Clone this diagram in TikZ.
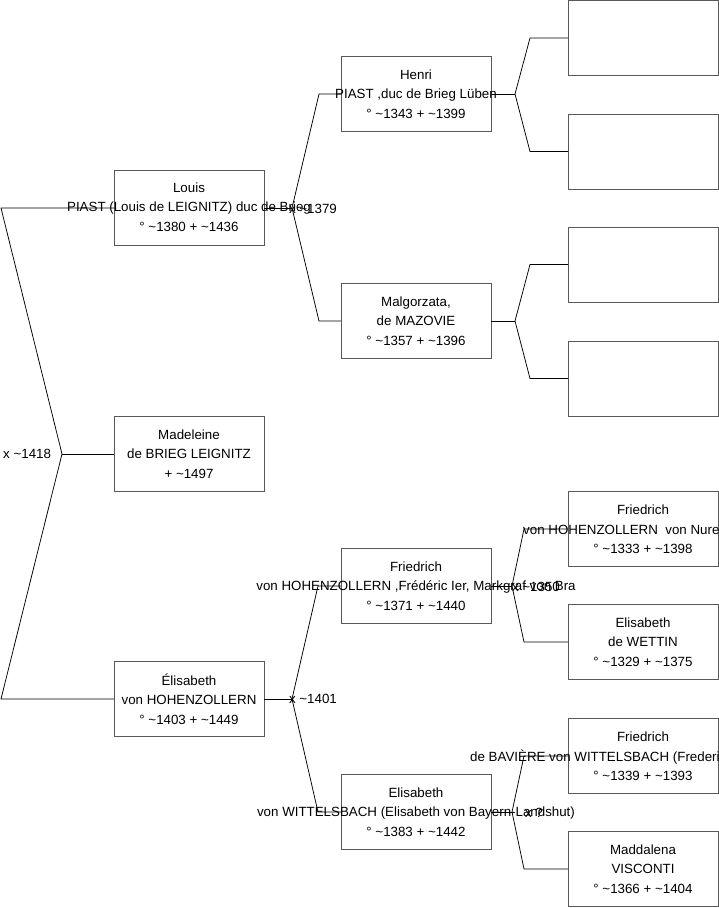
\documentclass[tikz,border=0pt]{standalone}
\usepackage{fontspec}
\setmainfont{Liberation Sans}
\newcommand\tld{\textasciitilde}
\begin{document}
\begin{tikzpicture}[x=1pt,y=-1pt,
  pbox/.style={draw=black!65, line width=0.9pt, minimum width=150pt, minimum height=75pt, inner sep=0pt, outer sep=0pt},
  ptext/.style={align=center, font=\fontsize{13.33}{19.5}\selectfont, inner sep=0pt, text=black},
  pline/.style={font=\fontsize{13.33}{16}\selectfont, inner sep=0pt, text=black, anchor=base},
  link/.style={draw=black, line width=0.75pt},
  mlabel/.style={font=\fontsize{13.33}{16}\selectfont, inner sep=0pt, anchor=base, text=black}]
\useasboundingbox (0,0) rectangle (719,908);

% boxes
\node[pbox] (louis) at (189,208) {};
\node[pbox] (madeleine) at (189,454) {};
\node[pbox] (elisa) at (189,699) {};
\node[pbox] (henri) at (416,94) {};
\node[pbox] (malg) at (416,321) {};
\node[pbox] (fried) at (416,586) {};
\node[pbox] (elisb) at (416,812) {};
\node[pbox] (r1) at (643,38) {};
\node[pbox] (r2) at (643,151.5) {};
\node[pbox] (r3) at (643,264.5) {};
\node[pbox] (r4) at (643,378.5) {};
\node[pbox] (r5) at (643,529) {};
\node[pbox] (r6) at (643,642) {};
\node[pbox] (r7) at (643,756) {};
\node[pbox] (r8) at (643,869) {};

% texts
\node[ptext] (tlouis) at (189,207) {Louis\\PIAST (Louis de LEIGNITZ) duc de Brieg\\° \tld1380 + \tld1436};
\node[ptext] (tmad) at (189,454) {Madeleine\\de BRIEG LEIGNITZ\\+ \tld1497};
\node[ptext] (telisa) at (189,699) {Élisabeth\\von HOHENZOLLERN\\° \tld1403 + \tld1449};
\node[ptext] (thenri) at (416,94) {Henri\\PIAST ,duc de Brieg Lüben\\° \tld1343 + \tld1399};
\node[ptext] (tmalg) at (416,321) {Malgorzata,\\de MAZOVIE\\° \tld1357 + \tld1396};
\node[ptext] (tfried) at (416,586) {Friedrich\\von HOHENZOLLERN ,Frédéric Ier, Markgraf von Bra\\° \tld1371 + \tld1440};
\node[ptext] (telisb) at (416,812) {Elisabeth\\von WITTELSBACH (Elisabeth von Bayern-Landshut)\\° \tld1383 + \tld1442};

\node[pline] (tr5a) at (643,514) {Friedrich};
\node[pline, anchor=base west] (tr5b) at (523,534) {von HOHENZOLLERN\ \ von Nure};
\node[pline] (tr5c) at (643,553.5) {° \tld1333 + \tld1398};
\node[ptext] (tr6) at (643,642) {Elisabeth\\de WETTIN\\° \tld1329 + \tld1375};
\node[pline] (tr7a) at (643,741) {Friedrich};
\node[pline, anchor=base west] (tr7b) at (470,761) {de BAVIÈRE von WITTELSBACH (Frederi};
\node[pline] (tr7c) at (643,780.5) {° \tld1339 + \tld1393};
\node[ptext] (tr8) at (643,869) {Maddalena\\VISCONTI\\° \tld1366 + \tld1404};

% root fork
\coordinate (vR) at (62,454);
\coordinate (rT) at (1,208);
\coordinate (rB) at (1,699);
\draw[link] (louis.west) -- (rT) -- (vR) -- (rB) -- (elisa.west);
\draw[link] (vR) -- (madeleine.west);
\node[mlabel, anchor=base west] (l1418) at (3,458) {x \tld1418};

% Louis fork
\coordinate (v1) at (292,208);
\coordinate (v1a) at (319,94);
\coordinate (v1b) at (319,321);
\draw[link] (louis.east) -- (v1);
\draw[link] (v1) -- (v1a) -- (henri.west);
\draw[link] (v1) -- (v1b) -- (malg.west);
\node[mlabel] (l1379) at (313,213) {x \tld1379};

% Elisabeth fork
\coordinate (v2) at (292,699);
\coordinate (v2a) at (318,586);
\coordinate (v2b) at (318,812);
\draw[link] (elisa.east) -- (v2);
\draw[link] (v2) -- (v2a) -- (fried.west);
\draw[link] (v2) -- (v2b) -- (elisb.west);
\node[mlabel] (l1401) at (313,703) {x \tld1401};

% Henri fork
\coordinate (v3) at (515,94);
\coordinate (v3a) at (530,38);
\coordinate (v3b) at (530,151.5);
\draw[link] (henri.east) -- (v3);
\draw[link] (v3) -- (v3a) -- (r1.west);
\draw[link] (v3) -- (v3b) -- (r2.west);

% Malgorzata fork
\coordinate (v4) at (515,321);
\coordinate (v4a) at (530,264.5);
\coordinate (v4b) at (530,378.5);
\draw[link] (malg.east) -- (v4);
\draw[link] (v4) -- (v4a) -- (r3.west);
\draw[link] (v4) -- (v4b) -- (r4.west);

% Friedrich fork
\coordinate (v5) at (512,586);
\coordinate (v5a) at (524,529);
\coordinate (v5b) at (524,642);
\draw[link] (fried.east) -- (v5);
\draw[link] (v5) -- (v5a) -- (r5.west);
\draw[link] (v5) -- (v5b) -- (r6.west);
\node[mlabel] (l1350) at (536,591) {x \tld1350};

% Elisabeth (Wittelsbach) fork
\coordinate (v6) at (512,812);
\coordinate (v6a) at (524,756);
\coordinate (v6b) at (524,869);
\draw[link] (elisb.east) -- (v6);
\draw[link] (v6) -- (v6a) -- (r7.west);
\draw[link] (v6) -- (v6b) -- (r8.west);
\node[mlabel] (lq) at (534,817) {x ?};
\end{tikzpicture}
\end{document}
